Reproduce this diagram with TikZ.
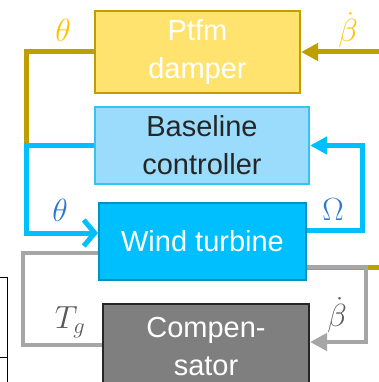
\RequirePackage{fix-cm}
\documentclass[tikz,border=0pt]{standalone}
\usepackage{fontspec}
\setmainfont{Liberation Sans}
\usetikzlibrary{arrows.meta}
\definecolor{goldline}{HTML}{BF9F00}
\definecolor{goldlbl}{HTML}{FFC000}
\definecolor{dampfill}{HTML}{FFE36E}
\definecolor{basefill}{HTML}{9BDBFB}
\definecolor{basedraw}{HTML}{33C4F5}
\definecolor{wtfill}{HTML}{00BFFF}
\definecolor{wtdraw}{HTML}{0091C2}
\definecolor{blueline}{HTML}{00BFFF}
\definecolor{bluelbl}{HTML}{2E75D6}
\definecolor{grayline}{HTML}{A6A6A6}
\definecolor{compfill}{HTML}{7F7F7F}
\definecolor{compdraw}{HTML}{262626}
\definecolor{graylbl}{HTML}{595959}
\definecolor{darktext}{HTML}{262626}
\tikzset{
  blk/.style={rectangle, line width=2pt, align=center, inner sep=0pt,
    font=\fontsize{29}{38}\selectfont},
  lbl/.style={inner sep=0pt, font=\fontsize{32}{36}\selectfont},
  goldw/.style={draw=goldline, line width=5pt},
  bluew/.style={draw=blueline, line width=5pt},
  grayw/.style={draw=grayline, line width=4.5pt},
  tri/.style={-{Triangle[length=17pt,width=17pt]}},
  chev/.style={-{Straight Barb[length=11pt,width=26pt]}},
}
\begin{document}
\begin{tikzpicture}[x=1pt,y=-1pt]
\useasboundingbox (0,0) rectangle (379,382);
% blocks
\node[blk, fill=dampfill, draw=goldline, text=white, minimum width=205pt, minimum height=82pt] (damp) at (197.5,52) {Ptfm\\damper};
\node[blk, fill=basefill, draw=basedraw, text=darktext, minimum width=214pt, minimum height=77pt] (base) at (202,145.5) {Baseline\\controller};
\node[blk, fill=wtfill, draw=wtdraw, text=white, minimum width=207pt, minimum height=77pt] (wt) at (202.5,241.5) {Wind turbine};
\node[blk, fill=compfill, draw=compdraw, text=white, minimum width=206pt, minimum height=86pt] (comp) at (206,347) {Compen-\\sator};
% coordinates
\coordinate (jl) at (26,145.5);
\coordinate (jr) at (362,145.5);
\coordinate (gin) at (379,52);
\coordinate (gout) at (379,267);
% gold connectors
\draw[goldw] (damp.west) -| (jl);
\draw[goldw, tri] (gin) -- (damp.east);
\draw[goldw] ([yshift=-25.5pt]wt.east) -- (gout);
% blue connectors
\draw[bluew, chev] (base.west) -- (jl) |- ([yshift=8.5pt]wt.west);
\draw[bluew, tri] ([yshift=11.5pt]wt.east) -| (jr) -- (base.east);
% gray connectors
\draw[grayw, tri] ([yshift=-25.5pt]wt.east) -- ++(59,0) |- ([yshift=5pt]comp.east);
\draw[grayw] ([yshift=2pt]comp.west) -- ++(-79,0) |- ([yshift=-11.5pt]wt.west);
% labels
\node[lbl, text=goldlbl] (l1) at (63,30) {$\theta$};
\node[lbl, text=goldlbl] (l2) at (348,30) {$\dot\beta$};
\node[lbl, text=bluelbl] (l3) at (60,210) {$\theta$};
\node[lbl, text=bluelbl] (l4) at (333,210) {$\Omega$};
\node[lbl, text=graylbl] (l5) at (70,322) {$T_g$};
\node[lbl, text=graylbl] (l6) at (337,315) {$\dot\beta$};
% partial frame at left edge
\draw[line width=1pt, black] (0,277) -- (7,277) -- (7,382);
\draw[line width=1pt, black] (0,357) -- (7,357);
\end{tikzpicture}
\end{document}
